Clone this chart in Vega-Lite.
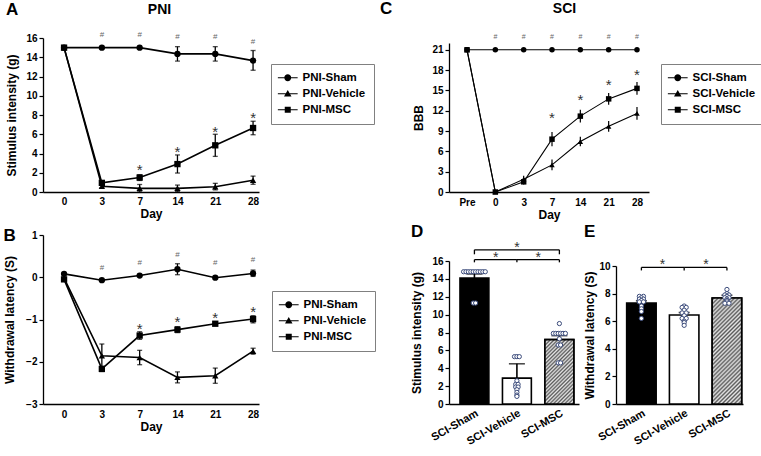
{
  "$schema": "https://vega.github.io/schema/vega-lite/v6.json",
  "padding": {"left": 3, "top": 0, "right": 0, "bottom": 0},
  "background": "white",
  "config": {
    "font": "Liberation Sans",
    "view": {"stroke": null},
    "axis": {"grid": false, "domainColor": "#000", "domainWidth": 1.3, "tickColor": "#000", "tickWidth": 1.2, "tickSize": 4, "labelFont": "Liberation Sans", "labelFontWeight": "bold", "labelFontSize": 10, "labelColor": "#000", "labelPadding": 2, "titleFont": "Liberation Sans", "titleFontWeight": "bold", "titleFontSize": 12, "titleColor": "#000", "labelOverlap": false},
    "title": {"font": "Liberation Sans", "fontWeight": "bold", "fontSize": 17, "color": "#000", "anchor": "start", "frame": "bounds", "baseline": "alphabetic"},
    "legend": {"orient": "none", "labelFont": "Liberation Sans", "labelFontWeight": "bold", "labelFontSize": 11.5, "labelColor": "#000", "strokeColor": "#808080", "padding": 8, "symbolOffset": 3, "labelOffset": 9, "rowPadding": 3, "symbolSize": 36, "symbolOpacity": 1, "symbolStrokeWidth": 1, "symbolFillColor": "#000", "symbolStrokeColor": "#000"}
  },
  "datasets": {
    "pniMech": [
      {"day": 0, "group": "PNI-Sham", "mean": 15},
      {"day": 3, "group": "PNI-Sham", "mean": 15},
      {"day": 7, "group": "PNI-Sham", "mean": 15},
      {"day": 14, "group": "PNI-Sham", "mean": 14.35, "lo": 13.6, "hi": 15.1},
      {"day": 21, "group": "PNI-Sham", "mean": 14.35, "lo": 13.6, "hi": 15.1},
      {"day": 28, "group": "PNI-Sham", "mean": 13.65, "lo": 12.65, "hi": 14.7},
      {"day": 0, "group": "PNI-Vehicle", "mean": 15},
      {"day": 3, "group": "PNI-Vehicle", "mean": 0.6, "lo": 0.45, "hi": 0.75},
      {"day": 7, "group": "PNI-Vehicle", "mean": 0.38, "lo": 0.02, "hi": 0.78},
      {"day": 14, "group": "PNI-Vehicle", "mean": 0.38, "lo": 0.05, "hi": 0.72},
      {"day": 21, "group": "PNI-Vehicle", "mean": 0.55, "lo": 0.22, "hi": 0.9},
      {"day": 28, "group": "PNI-Vehicle", "mean": 1.22, "lo": 0.8, "hi": 1.65},
      {"day": 0, "group": "PNI-MSC", "mean": 15},
      {"day": 3, "group": "PNI-MSC", "mean": 0.95, "lo": 0.75, "hi": 1.15},
      {"day": 7, "group": "PNI-MSC", "mean": 1.5, "lo": 1.2, "hi": 1.8},
      {"day": 14, "group": "PNI-MSC", "mean": 2.9, "lo": 1.97, "hi": 3.85},
      {"day": 21, "group": "PNI-MSC", "mean": 4.85, "lo": 3.7, "hi": 6.0},
      {"day": 28, "group": "PNI-MSC", "mean": 6.65, "lo": 5.95, "hi": 7.35}
    ],
    "pniMechAnn": [
      {"day": 7, "y": 2.7, "label": "*"},
      {"day": 14, "y": 4.6, "label": "*"},
      {"day": 21, "y": 6.7, "label": "*"},
      {"day": 28, "y": 8.1, "label": "*"},
      {"day": 3, "y": 16.3, "label": "#"},
      {"day": 7, "y": 16.3, "label": "#"},
      {"day": 14, "y": 16.15, "label": "#"},
      {"day": 21, "y": 16.15, "label": "#"},
      {"day": 28, "y": 15.6, "label": "#"}
    ],
    "pniTherm": [
      {"day": 0, "group": "PNI-Sham", "mean": 0.08},
      {"day": 3, "group": "PNI-Sham", "mean": -0.07},
      {"day": 7, "group": "PNI-Sham", "mean": 0.04},
      {"day": 14, "group": "PNI-Sham", "mean": 0.19, "lo": 0.06, "hi": 0.32},
      {"day": 21, "group": "PNI-Sham", "mean": -0.01},
      {"day": 28, "group": "PNI-Sham", "mean": 0.09, "lo": 0.02, "hi": 0.17},
      {"day": 0, "group": "PNI-Vehicle", "mean": -0.02},
      {"day": 3, "group": "PNI-Vehicle", "mean": -1.86, "lo": -2.14, "hi": -1.58},
      {"day": 7, "group": "PNI-Vehicle", "mean": -1.9, "lo": -2.07, "hi": -1.73},
      {"day": 14, "group": "PNI-Vehicle", "mean": -2.37, "lo": -2.5, "hi": -2.24},
      {"day": 21, "group": "PNI-Vehicle", "mean": -2.33, "lo": -2.51, "hi": -2.15},
      {"day": 28, "group": "PNI-Vehicle", "mean": -1.75, "lo": -1.82, "hi": -1.68},
      {"day": 0, "group": "PNI-MSC", "mean": -0.05},
      {"day": 3, "group": "PNI-MSC", "mean": -2.17, "lo": -2.23, "hi": -2.11},
      {"day": 7, "group": "PNI-MSC", "mean": -1.38, "lo": -1.47, "hi": -1.29},
      {"day": 14, "group": "PNI-MSC", "mean": -1.24, "lo": -1.31, "hi": -1.17},
      {"day": 21, "group": "PNI-MSC", "mean": -1.1, "lo": -1.14, "hi": -1.06},
      {"day": 28, "group": "PNI-MSC", "mean": -0.99, "lo": -1.08, "hi": -0.91}
    ],
    "pniThermAnn": [
      {"day": 7, "y": -1.13, "label": "*"},
      {"day": 14, "y": -0.96, "label": "*"},
      {"day": 21, "y": -0.87, "label": "*"},
      {"day": 28, "y": -0.73, "label": "*"},
      {"day": 3, "y": 0.23, "label": "#"},
      {"day": 7, "y": 0.33, "label": "#"},
      {"day": 14, "y": 0.53, "label": "#"},
      {"day": 21, "y": 0.33, "label": "#"},
      {"day": 28, "y": 0.41, "label": "#"}
    ],
    "sciBBB": [
      {"day": "Pre", "group": "SCI-Sham", "mean": 21},
      {"day": "0", "group": "SCI-Sham", "mean": 21},
      {"day": "3", "group": "SCI-Sham", "mean": 21},
      {"day": "7", "group": "SCI-Sham", "mean": 21},
      {"day": "14", "group": "SCI-Sham", "mean": 21},
      {"day": "21", "group": "SCI-Sham", "mean": 21},
      {"day": "28", "group": "SCI-Sham", "mean": 21},
      {"day": "Pre", "group": "SCI-Vehicle", "mean": 21},
      {"day": "0", "group": "SCI-Vehicle", "mean": 0},
      {"day": "3", "group": "SCI-Vehicle", "mean": 1.9, "lo": 1.4, "hi": 2.4},
      {"day": "7", "group": "SCI-Vehicle", "mean": 4.0, "lo": 3.2, "hi": 4.8},
      {"day": "14", "group": "SCI-Vehicle", "mean": 7.45, "lo": 6.75, "hi": 8.15},
      {"day": "21", "group": "SCI-Vehicle", "mean": 9.7, "lo": 8.9, "hi": 10.5},
      {"day": "28", "group": "SCI-Vehicle", "mean": 11.6, "lo": 10.65, "hi": 12.55},
      {"day": "Pre", "group": "SCI-MSC", "mean": 21},
      {"day": "0", "group": "SCI-MSC", "mean": 0},
      {"day": "3", "group": "SCI-MSC", "mean": 1.5, "lo": 1.1, "hi": 1.9},
      {"day": "7", "group": "SCI-MSC", "mean": 7.8, "lo": 6.75, "hi": 8.85},
      {"day": "14", "group": "SCI-MSC", "mean": 11.2, "lo": 10.25, "hi": 12.15},
      {"day": "21", "group": "SCI-MSC", "mean": 13.75, "lo": 12.9, "hi": 14.6},
      {"day": "28", "group": "SCI-MSC", "mean": 15.3, "lo": 14.35, "hi": 16.25}
    ],
    "sciBBBAnn": [
      {"day": "7", "y": 11.5, "label": "*"},
      {"day": "14", "y": 14.2, "label": "*"},
      {"day": "21", "y": 16.4, "label": "*"},
      {"day": "28", "y": 17.9, "label": "*"},
      {"day": "0", "y": 22.85, "label": "#"},
      {"day": "3", "y": 22.85, "label": "#"},
      {"day": "7", "y": 22.85, "label": "#"},
      {"day": "14", "y": 22.85, "label": "#"},
      {"day": "21", "y": 22.85, "label": "#"},
      {"day": "28", "y": 22.85, "label": "#"}
    ],
    "dBars": [
      {"group": "SCI-Sham", "mean": 14.1, "hi": 14.55},
      {"group": "SCI-Vehicle", "mean": 2.9, "hi": 4.5},
      {"group": "SCI-MSC", "mean": 7.2, "hi": 7.65}
    ],
    "dDots": [
      {"group": "SCI-Sham", "value": 14.8}, {"group": "SCI-Sham", "value": 14.8}, {"group": "SCI-Sham", "value": 14.8}, {"group": "SCI-Sham", "value": 14.8}, {"group": "SCI-Sham", "value": 14.8},
      {"group": "SCI-Sham", "value": 14.8}, {"group": "SCI-Sham", "value": 14.8}, {"group": "SCI-Sham", "value": 14.8}, {"group": "SCI-Sham", "value": 14.8}, {"group": "SCI-Sham", "value": 14.8},
      {"group": "SCI-Sham", "value": 11.3}, {"group": "SCI-Sham", "value": 11.3},
      {"group": "SCI-Vehicle", "value": 5.3}, {"group": "SCI-Vehicle", "value": 5.3}, {"group": "SCI-Vehicle", "value": 5.3},
      {"group": "SCI-Vehicle", "value": 2.6}, {"group": "SCI-Vehicle", "value": 2.2}, {"group": "SCI-Vehicle", "value": 2.2},
      {"group": "SCI-Vehicle", "value": 1.9}, {"group": "SCI-Vehicle", "value": 1.9}, {"group": "SCI-Vehicle", "value": 1.6},
      {"group": "SCI-Vehicle", "value": 1.3}, {"group": "SCI-Vehicle", "value": 1.0}, {"group": "SCI-Vehicle", "value": 0.85},
      {"group": "SCI-MSC", "value": 9.0},
      {"group": "SCI-MSC", "value": 7.9}, {"group": "SCI-MSC", "value": 7.9}, {"group": "SCI-MSC", "value": 7.9}, {"group": "SCI-MSC", "value": 7.9}, {"group": "SCI-MSC", "value": 7.9}, {"group": "SCI-MSC", "value": 7.9},
      {"group": "SCI-MSC", "value": 7.3},
      {"group": "SCI-MSC", "value": 6.6}, {"group": "SCI-MSC", "value": 6.6},
      {"group": "SCI-MSC", "value": 4.6}, {"group": "SCI-MSC", "value": 4.6}
    ],
    "dBrackets": [
      {"from": "SCI-Sham", "to": "SCI-MSC", "y": 17.25},
      {"from": "SCI-Sham", "to": "SCI-Vehicle", "y": 16.15},
      {"from": "SCI-Vehicle", "to": "SCI-MSC", "y": 16.15}
    ],
    "dBracketTicks": [
      {"g": "SCI-Sham", "y": 17.25, "y2": 16.75},
      {"g": "SCI-MSC", "y": 17.25, "y2": 16.75},
      {"g": "SCI-Sham", "y": 16.15, "y2": 15.85},
      {"g": "SCI-Vehicle", "y": 16.15, "y2": 15.85},
      {"g": "SCI-MSC", "y": 16.15, "y2": 15.85}
    ],
    "dStars": [
      {"g": "SCI-Vehicle", "side": 0, "y": 17.9, "label": "*"},
      {"g": "SCI-Vehicle", "side": -1, "y": 16.8, "label": "*"},
      {"g": "SCI-Vehicle", "side": 1, "y": 16.8, "label": "*"}
    ],
    "eBars": [
      {"group": "SCI-Sham", "mean": 7.32, "hi": 7.48},
      {"group": "SCI-Vehicle", "mean": 6.45, "hi": 6.63},
      {"group": "SCI-MSC", "mean": 7.68, "hi": 7.88}
    ],
    "eDots": [
      {"group": "SCI-Sham", "value": 7.8}, {"group": "SCI-Sham", "value": 7.8}, {"group": "SCI-Sham", "value": 7.7}, {"group": "SCI-Sham", "value": 7.6},
      {"group": "SCI-Sham", "value": 7.6}, {"group": "SCI-Sham", "value": 7.5}, {"group": "SCI-Sham", "value": 7.4}, {"group": "SCI-Sham", "value": 7.4},
      {"group": "SCI-Sham", "value": 7.1}, {"group": "SCI-Sham", "value": 6.9}, {"group": "SCI-Sham", "value": 6.7}, {"group": "SCI-Sham", "value": 6.2},
      {"group": "SCI-Vehicle", "value": 7.1}, {"group": "SCI-Vehicle", "value": 7.0}, {"group": "SCI-Vehicle", "value": 7.0}, {"group": "SCI-Vehicle", "value": 6.8},
      {"group": "SCI-Vehicle", "value": 6.6}, {"group": "SCI-Vehicle", "value": 6.6}, {"group": "SCI-Vehicle", "value": 6.4}, {"group": "SCI-Vehicle", "value": 6.2},
      {"group": "SCI-Vehicle", "value": 6.2}, {"group": "SCI-Vehicle", "value": 6.0}, {"group": "SCI-Vehicle", "value": 5.9}, {"group": "SCI-Vehicle", "value": 5.7},
      {"group": "SCI-MSC", "value": 8.3}, {"group": "SCI-MSC", "value": 8.0}, {"group": "SCI-MSC", "value": 7.9}, {"group": "SCI-MSC", "value": 7.9},
      {"group": "SCI-MSC", "value": 7.8}, {"group": "SCI-MSC", "value": 7.7}, {"group": "SCI-MSC", "value": 7.7}, {"group": "SCI-MSC", "value": 7.6},
      {"group": "SCI-MSC", "value": 7.5}, {"group": "SCI-MSC", "value": 7.4}, {"group": "SCI-MSC", "value": 7.3}, {"group": "SCI-MSC", "value": 7.3}
    ],
    "eBrackets": [
      {"from": "SCI-Sham", "to": "SCI-Vehicle", "y": 9.9},
      {"from": "SCI-Vehicle", "to": "SCI-MSC", "y": 9.9}
    ],
    "eBracketTicks": [
      {"g": "SCI-Sham", "y": 9.9, "y2": 9.68},
      {"g": "SCI-Vehicle", "y": 9.9, "y2": 9.68},
      {"g": "SCI-MSC", "y": 9.9, "y2": 9.68}
    ],
    "eStars": [
      {"g": "SCI-Vehicle", "side": -1, "y": 10.34, "label": "*"},
      {"g": "SCI-Vehicle", "side": 1, "y": 10.34, "label": "*"}
    ]
  },
  "resolve": {"scale": {"x": "independent", "y": "independent", "shape": "independent", "fill": "independent", "xOffset": "independent"}},
  "columns": 3,
  "align": "none",
  "bounds": "flush",
  "spacing": {"row": 43, "column": 37},
  "concat": [
    {
      "width": 369, "height": 154,
      "title": {"text": "A", "offset": -17},
      "data": {"name": "pniMech"},
      "resolve": {"axis": {"x": "independent"}},
      "layer": [
        {
          "mark": {"type": "line", "color": "#000", "strokeWidth": 1.6},
          "encoding": {
            "x": {"field": "day", "type": "ordinal", "scale": {"type": "point", "range": [0, 216], "padding": 0.357, "align": 0.78}, "axis": {"title": "Day", "labelAngle": 0, "ticks": false, "labelPadding": 4, "titlePadding": 2}},
            "y": {"field": "mean", "type": "quantitative", "scale": {"domain": [0, 16]}, "axis": {"title": "Stimulus intensity (g)", "values": [0, 2, 4, 6, 8, 10, 12, 14, 16], "tickCount": 50, "format": "d", "titlePadding": 7}},
            "detail": {"field": "group"}
          }
        },
        {
          "transform": [{"filter": "isValid(datum.lo)"}],
          "mark": {"type": "rule", "color": "#000", "strokeWidth": 1.3},
          "encoding": {"x": {"field": "day", "type": "ordinal", "axis": null}, "y": {"field": "lo", "type": "quantitative"}, "y2": {"field": "hi"}}
        },
        {
          "transform": [{"filter": "isValid(datum.lo)"}],
          "mark": {"type": "tick", "color": "#000", "thickness": 1.3, "size": 5, "orient": "horizontal"},
          "encoding": {"x": {"field": "day", "type": "ordinal", "axis": null}, "y": {"field": "lo", "type": "quantitative"}}
        },
        {
          "transform": [{"filter": "isValid(datum.lo)"}],
          "mark": {"type": "tick", "color": "#000", "thickness": 1.3, "size": 5, "orient": "horizontal"},
          "encoding": {"x": {"field": "day", "type": "ordinal", "axis": null}, "y": {"field": "hi", "type": "quantitative"}}
        },
        {
          "transform": [{"filter": "datum.group == 'PNI-Sham'"}],
          "mark": {"type": "point", "shape": "circle", "filled": true, "color": "#000", "size": 40, "opacity": 1},
          "encoding": {"x": {"field": "day", "type": "ordinal", "axis": null}, "y": {"field": "mean", "type": "quantitative"}}
        },
        {
          "transform": [{"filter": "datum.group == 'PNI-Vehicle'"}],
          "mark": {"type": "point", "shape": "triangle-up", "filled": true, "color": "#000", "size": 40, "opacity": 1},
          "encoding": {"x": {"field": "day", "type": "ordinal", "axis": null}, "y": {"field": "mean", "type": "quantitative"}}
        },
        {
          "transform": [{"filter": "datum.group == 'PNI-MSC'"}],
          "mark": {"type": "point", "shape": "square", "filled": true, "color": "#000", "size": 40, "opacity": 1},
          "encoding": {"x": {"field": "day", "type": "ordinal", "axis": null}, "y": {"field": "mean", "type": "quantitative"}}
        },
        {
          "mark": {"type": "point", "fill": "#000", "stroke": "#000", "strokeWidth": 1, "opacity": 0, "size": 36},
          "encoding": {
            "x": {"field": "day", "type": "ordinal", "axis": null},
            "y": {"field": "mean", "type": "quantitative"},
            "shape": {"field": "group", "type": "nominal", "scale": {"domain": ["PNI-Sham", "PNI-Vehicle", "PNI-MSC"], "range": ["M-3.3,-0.17H3.3V0.17H-3.3ZM1.15,0A1.15,1.15,0,1,1,-1.15,0A1.15,1.15,0,1,1,1.15,0Z", "M-3.3,-0.17H3.3V0.17H-3.3ZM0,-1.25L1.25,0.95L-1.25,0.95Z", "M-3.3,-0.17H3.3V0.17H-3.3ZM-1,-1H1V1H-1Z"]},
              "legend": {"title": null, "legendX": 228, "legendY": 26}}
          }
        },
        {
          "data": {"name": "pniMechAnn"},
          "transform": [{"filter": "datum.label == '*'"}],
          "mark": {"type": "text", "fontSize": 15, "color": "#333", "baseline": "middle", "dy": 4},
          "encoding": {"x": {"field": "day", "type": "ordinal", "axis": null}, "y": {"field": "y", "type": "quantitative"}, "text": {"field": "label"}}
        },
        {
          "data": {"name": "pniMechAnn"},
          "transform": [{"filter": "datum.label == '#'"}],
          "mark": {"type": "text", "fontSize": 8, "color": "#666", "baseline": "middle"},
          "encoding": {
            "x": {"field": "day", "type": "ordinal", "axis": {"orient": "top", "title": "PNI", "domain": false, "ticks": false, "labels": false, "titleFontSize": 14, "titleX": 116, "titleY": -25, "titleBaseline": "alphabetic", "titleAlign": "center"}},
            "y": {"field": "y", "type": "quantitative"}, "text": {"field": "label"}
          }
        }
      ]
    },
    {
      "width": 130, "height": 154,
      "title": {"text": "C", "offset": -17, "dx": -33},
      "data": {"name": "sciBBB"},
      "resolve": {"axis": {"x": "independent"}},
      "layer": [
        {
          "mark": {"type": "line", "color": "#000", "strokeWidth": 1.1},
          "encoding": {
            "x": {"field": "day", "type": "ordinal", "scale": {"type": "point", "domain": ["Pre", "0", "3", "7", "14", "21", "28"], "range": [0, 200], "padding": 0.53, "align": 0.6}, "axis": {"title": "Day", "labelAngle": 0, "ticks": false, "labelPadding": 5, "titlePadding": 2}},
            "y": {"field": "mean", "type": "quantitative", "scale": {"domain": [0, 21], "range": [154, 5]}, "axis": {"title": "BBB", "values": [0, 3, 6, 9, 12, 15, 18, 21], "tickCount": 50, "format": "d", "titlePadding": 6}},
            "detail": {"field": "group"}
          }
        },
        {
          "transform": [{"filter": "isValid(datum.lo)"}],
          "mark": {"type": "rule", "color": "#000", "strokeWidth": 1.2},
          "encoding": {"x": {"field": "day", "type": "ordinal", "axis": null}, "y": {"field": "lo", "type": "quantitative"}, "y2": {"field": "hi"}}
        },
        {
          "transform": [{"filter": "datum.group == 'SCI-Sham'"}],
          "mark": {"type": "point", "shape": "circle", "filled": true, "color": "#000", "size": 30, "opacity": 1},
          "encoding": {"x": {"field": "day", "type": "ordinal", "axis": null}, "y": {"field": "mean", "type": "quantitative"}}
        },
        {
          "transform": [{"filter": "datum.group == 'SCI-Vehicle'"}],
          "mark": {"type": "point", "shape": "triangle-up", "filled": true, "color": "#000", "size": 30, "opacity": 1},
          "encoding": {"x": {"field": "day", "type": "ordinal", "axis": null}, "y": {"field": "mean", "type": "quantitative"}}
        },
        {
          "transform": [{"filter": "datum.group == 'SCI-MSC'"}],
          "mark": {"type": "point", "shape": "square", "filled": true, "color": "#000", "size": 30, "opacity": 1},
          "encoding": {"x": {"field": "day", "type": "ordinal", "axis": null}, "y": {"field": "mean", "type": "quantitative"}}
        },
        {
          "mark": {"type": "point", "fill": "#000", "stroke": "#000", "strokeWidth": 1, "opacity": 0, "size": 36},
          "encoding": {
            "x": {"field": "day", "type": "ordinal", "axis": null},
            "y": {"field": "mean", "type": "quantitative"},
            "shape": {"field": "group", "type": "nominal", "scale": {"domain": ["SCI-Sham", "SCI-Vehicle", "SCI-MSC"], "range": ["M-3.3,-0.17H3.3V0.17H-3.3ZM1.15,0A1.15,1.15,0,1,1,-1.15,0A1.15,1.15,0,1,1,1.15,0Z", "M-3.3,-0.17H3.3V0.17H-3.3ZM0,-1.25L1.25,0.95L-1.25,0.95Z", "M-3.3,-0.17H3.3V0.17H-3.3ZM-1,-1H1V1H-1Z"]},
              "legend": {"title": null, "legendX": 212, "legendY": 26}}
          }
        },
        {
          "data": {"name": "sciBBBAnn"},
          "transform": [{"filter": "datum.label == '*'"}],
          "mark": {"type": "text", "fontSize": 15, "color": "#333", "baseline": "middle", "dy": 4},
          "encoding": {"x": {"field": "day", "type": "ordinal", "axis": null}, "y": {"field": "y", "type": "quantitative"}, "text": {"field": "label"}}
        },
        {
          "data": {"name": "sciBBBAnn"},
          "transform": [{"filter": "datum.label == '#'"}],
          "mark": {"type": "text", "fontSize": 7, "color": "#666", "baseline": "middle"},
          "encoding": {
            "x": {"field": "day", "type": "ordinal", "axis": {"orient": "top", "title": "SCI", "domain": false, "ticks": false, "labels": false, "titleFontSize": 14, "titleX": 115, "titleY": -26, "titleBaseline": "alphabetic", "titleAlign": "center"}},
            "y": {"field": "y", "type": "quantitative"}, "text": {"field": "label"}
          }
        }
      ]
    },
    {
      "width": 1, "height": 154,
      "data": {"values": []},
      "mark": {"type": "point", "opacity": 0},
      "encoding": {}
    },
    {
      "width": 369, "height": 169,
      "title": {"text": "B", "offset": -15},
      "data": {"name": "pniTherm"},
      "resolve": {"axis": {"x": "independent"}},
      "layer": [
        {
          "mark": {"type": "line", "color": "#000", "strokeWidth": 1.6},
          "encoding": {
            "x": {"field": "day", "type": "ordinal", "scale": {"type": "point", "range": [0, 216], "padding": 0.357, "align": 0.78}, "axis": {"title": "Day", "labelAngle": 0, "ticks": false, "labelPadding": 5, "titlePadding": 2}},
            "y": {"field": "mean", "type": "quantitative", "scale": {"domain": [-3, 1]}, "axis": {"title": "Withdrawal latency (S)", "values": [-3, -2, -1, 0, 1], "titlePadding": 9}},
            "detail": {"field": "group"}
          }
        },
        {
          "transform": [{"filter": "isValid(datum.lo)"}],
          "mark": {"type": "rule", "color": "#000", "strokeWidth": 1.3},
          "encoding": {"x": {"field": "day", "type": "ordinal", "axis": null}, "y": {"field": "lo", "type": "quantitative"}, "y2": {"field": "hi"}}
        },
        {
          "transform": [{"filter": "isValid(datum.lo)"}],
          "mark": {"type": "tick", "color": "#000", "thickness": 1.3, "size": 5, "orient": "horizontal"},
          "encoding": {"x": {"field": "day", "type": "ordinal", "axis": null}, "y": {"field": "lo", "type": "quantitative"}}
        },
        {
          "transform": [{"filter": "isValid(datum.lo)"}],
          "mark": {"type": "tick", "color": "#000", "thickness": 1.3, "size": 5, "orient": "horizontal"},
          "encoding": {"x": {"field": "day", "type": "ordinal", "axis": null}, "y": {"field": "hi", "type": "quantitative"}}
        },
        {
          "transform": [{"filter": "datum.group == 'PNI-Sham'"}],
          "mark": {"type": "point", "shape": "circle", "filled": true, "color": "#000", "size": 40, "opacity": 1},
          "encoding": {"x": {"field": "day", "type": "ordinal", "axis": null}, "y": {"field": "mean", "type": "quantitative"}}
        },
        {
          "transform": [{"filter": "datum.group == 'PNI-Vehicle'"}],
          "mark": {"type": "point", "shape": "triangle-up", "filled": true, "color": "#000", "size": 40, "opacity": 1},
          "encoding": {"x": {"field": "day", "type": "ordinal", "axis": null}, "y": {"field": "mean", "type": "quantitative"}}
        },
        {
          "transform": [{"filter": "datum.group == 'PNI-MSC'"}],
          "mark": {"type": "point", "shape": "square", "filled": true, "color": "#000", "size": 40, "opacity": 1},
          "encoding": {"x": {"field": "day", "type": "ordinal", "axis": null}, "y": {"field": "mean", "type": "quantitative"}}
        },
        {
          "mark": {"type": "point", "fill": "#000", "stroke": "#000", "strokeWidth": 1, "opacity": 0, "size": 36},
          "encoding": {
            "x": {"field": "day", "type": "ordinal", "axis": null},
            "y": {"field": "mean", "type": "quantitative"},
            "shape": {"field": "group", "type": "nominal", "scale": {"domain": ["PNI-Sham", "PNI-Vehicle", "PNI-MSC"], "range": ["M-3.3,-0.17H3.3V0.17H-3.3ZM1.15,0A1.15,1.15,0,1,1,-1.15,0A1.15,1.15,0,1,1,1.15,0Z", "M-3.3,-0.17H3.3V0.17H-3.3ZM0,-1.25L1.25,0.95L-1.25,0.95Z", "M-3.3,-0.17H3.3V0.17H-3.3ZM-1,-1H1V1H-1Z"]},
              "legend": {"title": null, "legendX": 229, "legendY": 56}}
          }
        },
        {
          "data": {"name": "pniThermAnn"},
          "transform": [{"filter": "datum.label == '*'"}],
          "mark": {"type": "text", "fontSize": 15, "color": "#333", "baseline": "middle", "dy": 4},
          "encoding": {"x": {"field": "day", "type": "ordinal", "axis": null}, "y": {"field": "y", "type": "quantitative"}, "text": {"field": "label"}}
        },
        {
          "data": {"name": "pniThermAnn"},
          "transform": [{"filter": "datum.label == '#'"}],
          "mark": {"type": "text", "fontSize": 8, "color": "#666", "baseline": "middle"},
          "encoding": {"x": {"field": "day", "type": "ordinal", "axis": null}, "y": {"field": "y", "type": "quantitative"}, "text": {"field": "label"}}
        }
      ]
    },
    {
      "width": 130, "height": 169,
      "title": {"text": "D", "offset": -6},
      "resolve": {"scale": {"xOffset": "independent"}},
      "layer": [
        {
          "data": {"name": "dBars"},
          "mark": {"type": "bar", "stroke": "#000", "strokeWidth": 1.6},
          "encoding": {
            "x": {"field": "group", "type": "nominal", "title": null, "scale": {"domain": ["SCI-Sham", "SCI-Vehicle", "SCI-MSC"], "paddingInner": 0.32, "paddingOuter": 0.19, "align": 0.68}, "axis": {"labelAngle": -30, "ticks": false, "labelAlign": "right", "labelBaseline": "top", "labelFontSize": 11, "labelPadding": 3}},
            "y": {"field": "mean", "type": "quantitative", "title": "Stimulus intensity (g)", "scale": {"domain": [0, 16], "range": [169, 26]}, "axis": {"values": [0, 2, 4, 6, 8, 10, 12, 14, 16], "tickCount": 50, "format": "d", "titlePadding": 8}},
            "fill": {"field": "group", "type": "nominal", "scale": {"domain": ["SCI-Sham", "SCI-Vehicle", "SCI-MSC"], "range": ["#000000", "#ffffff", "#a9a9a9"]}, "legend": null}
          }
        },
        {
          "data": {"name": "dBars"},
          "transform": [{"filter": "datum.group == 'SCI-MSC'"}],
          "mark": {"type": "bar", "stroke": "#000", "strokeWidth": 1.6,
            "fill": {"gradient": "linear", "x1": 0, "y1": 0, "x2": 0.541, "y2": 1.206, "stops": [
              {"offset": 0, "color": "#e6e6e6"}, {"offset": 0.02, "color": "#5a5a5a"}, {"offset": 0.04, "color": "#e6e6e6"}, {"offset": 0.06, "color": "#5a5a5a"}, {"offset": 0.08, "color": "#e6e6e6"},
              {"offset": 0.1, "color": "#5a5a5a"}, {"offset": 0.12, "color": "#e6e6e6"}, {"offset": 0.14, "color": "#5a5a5a"}, {"offset": 0.16, "color": "#e6e6e6"}, {"offset": 0.18, "color": "#5a5a5a"},
              {"offset": 0.2, "color": "#e6e6e6"}, {"offset": 0.22, "color": "#5a5a5a"}, {"offset": 0.24, "color": "#e6e6e6"}, {"offset": 0.26, "color": "#5a5a5a"}, {"offset": 0.28, "color": "#e6e6e6"},
              {"offset": 0.3, "color": "#5a5a5a"}, {"offset": 0.32, "color": "#e6e6e6"}, {"offset": 0.34, "color": "#5a5a5a"}, {"offset": 0.36, "color": "#e6e6e6"}, {"offset": 0.38, "color": "#5a5a5a"},
              {"offset": 0.4, "color": "#e6e6e6"}, {"offset": 0.42, "color": "#5a5a5a"}, {"offset": 0.44, "color": "#e6e6e6"}, {"offset": 0.46, "color": "#5a5a5a"}, {"offset": 0.48, "color": "#e6e6e6"},
              {"offset": 0.5, "color": "#5a5a5a"}, {"offset": 0.52, "color": "#e6e6e6"}, {"offset": 0.54, "color": "#5a5a5a"}, {"offset": 0.56, "color": "#e6e6e6"}, {"offset": 0.58, "color": "#5a5a5a"},
              {"offset": 0.6, "color": "#e6e6e6"}, {"offset": 0.62, "color": "#5a5a5a"}, {"offset": 0.64, "color": "#e6e6e6"}, {"offset": 0.66, "color": "#5a5a5a"}, {"offset": 0.68, "color": "#e6e6e6"},
              {"offset": 0.7, "color": "#5a5a5a"}, {"offset": 0.72, "color": "#e6e6e6"}, {"offset": 0.74, "color": "#5a5a5a"}, {"offset": 0.76, "color": "#e6e6e6"}, {"offset": 0.78, "color": "#5a5a5a"},
              {"offset": 0.8, "color": "#e6e6e6"}, {"offset": 0.82, "color": "#5a5a5a"}, {"offset": 0.84, "color": "#e6e6e6"}, {"offset": 0.86, "color": "#5a5a5a"}, {"offset": 0.88, "color": "#e6e6e6"},
              {"offset": 0.9, "color": "#5a5a5a"}, {"offset": 0.92, "color": "#e6e6e6"}, {"offset": 0.94, "color": "#5a5a5a"}, {"offset": 0.96, "color": "#e6e6e6"}, {"offset": 0.98, "color": "#5a5a5a"},
              {"offset": 1, "color": "#e6e6e6"}
            ]}},
          "encoding": {"x": {"field": "group", "type": "nominal", "title": null}, "y": {"field": "mean", "type": "quantitative", "title": "Stimulus intensity (g)"}}
        },
        {
          "data": {"name": "dBars"},
          "mark": {"type": "rule", "color": "#000", "strokeWidth": 1.6},
          "encoding": {"x": {"field": "group", "type": "nominal", "title": null}, "y": {"field": "mean", "type": "quantitative", "title": "Stimulus intensity (g)"}, "y2": {"field": "hi"}}
        },
        {
          "data": {"name": "dBars"},
          "mark": {"type": "tick", "color": "#000", "orient": "horizontal", "size": 16, "thickness": 1.6},
          "encoding": {"x": {"field": "group", "type": "nominal", "title": null}, "y": {"field": "hi", "type": "quantitative", "title": "Stimulus intensity (g)"}}
        },
        {
          "data": {"name": "dDots"},
          "transform": [
            {"window": [{"op": "row_number", "as": "k"}, {"op": "count", "as": "n"}], "groupby": ["group", "value"], "frame": [null, null]},
            {"calculate": "datum.k - (datum.n + 1) / 2", "as": "off"}
          ],
          "mark": {"type": "point", "shape": "circle", "size": 18, "filled": true, "fill": "#ffffff", "stroke": "#3b4b7b", "strokeWidth": 1, "opacity": 1},
          "encoding": {
            "x": {"field": "group", "type": "nominal", "title": null},
            "xOffset": {"field": "off", "type": "quantitative", "scale": {"domain": [-6, 6]}},
            "y": {"field": "value", "type": "quantitative", "title": "Stimulus intensity (g)"}
          }
        },
        {
          "data": {"name": "dBrackets"},
          "mark": {"type": "rule", "color": "#000", "strokeWidth": 1.3},
          "encoding": {"x": {"field": "from", "type": "nominal", "title": null}, "x2": {"field": "to"}, "y": {"field": "y", "type": "quantitative", "title": "Stimulus intensity (g)"}}
        },
        {
          "data": {"name": "dBracketTicks"},
          "mark": {"type": "rule", "color": "#000", "strokeWidth": 1.3},
          "encoding": {"x": {"field": "g", "type": "nominal", "title": null}, "y": {"field": "y", "type": "quantitative", "title": "Stimulus intensity (g)"}, "y2": {"field": "y2"}}
        },
        {
          "data": {"name": "dStars"},
          "mark": {"type": "text", "fontSize": 14, "color": "#333", "baseline": "middle", "dy": 4},
          "encoding": {
            "x": {"field": "g", "type": "nominal", "title": null},
            "xOffset": {"field": "side", "type": "quantitative", "scale": {"domain": [-0.68, 0.68]}},
            "y": {"field": "y", "type": "quantitative", "title": "Stimulus intensity (g)"},
            "text": {"field": "label"}
          }
        }
      ]
    },
    {
      "width": 127, "height": 169,
      "title": {"text": "E", "offset": -6},
      "resolve": {"scale": {"xOffset": "independent"}},
      "layer": [
        {
          "data": {"name": "eBars"},
          "mark": {"type": "bar", "stroke": "#000", "strokeWidth": 1.6},
          "encoding": {
            "x": {"field": "group", "type": "nominal", "title": null, "scale": {"domain": ["SCI-Sham", "SCI-Vehicle", "SCI-MSC"], "paddingInner": 0.31, "paddingOuter": 0.14, "align": 0.89}, "axis": {"labelAngle": -30, "ticks": false, "labelAlign": "right", "labelBaseline": "top", "labelFontSize": 11, "labelPadding": 3}},
            "y": {"field": "mean", "type": "quantitative", "title": "Withdrawal latency (S)", "scale": {"domain": [0, 10], "range": [169, 31]}, "axis": {"values": [0, 2, 4, 6, 8, 10], "tickCount": 50, "format": "d", "titlePadding": 2}},
            "fill": {"field": "group", "type": "nominal", "scale": {"domain": ["SCI-Sham", "SCI-Vehicle", "SCI-MSC"], "range": ["#000000", "#ffffff", "#a9a9a9"]}, "legend": null}
          }
        },
        {
          "data": {"name": "eBars"},
          "transform": [{"filter": "datum.group == 'SCI-MSC'"}],
          "mark": {"type": "bar", "stroke": "#000", "strokeWidth": 1.6,
            "fill": {"gradient": "linear", "x1": 0, "y1": 0, "x2": 0.33, "y2": 1.186, "stops": [
              {"offset": 0, "color": "#e6e6e6"}, {"offset": 0.015, "color": "#5a5a5a"}, {"offset": 0.03, "color": "#e6e6e6"}, {"offset": 0.045, "color": "#5a5a5a"}, {"offset": 0.06, "color": "#e6e6e6"},
              {"offset": 0.075, "color": "#5a5a5a"}, {"offset": 0.09, "color": "#e6e6e6"}, {"offset": 0.105, "color": "#5a5a5a"}, {"offset": 0.12, "color": "#e6e6e6"}, {"offset": 0.135, "color": "#5a5a5a"},
              {"offset": 0.15, "color": "#e6e6e6"}, {"offset": 0.165, "color": "#5a5a5a"}, {"offset": 0.18, "color": "#e6e6e6"}, {"offset": 0.195, "color": "#5a5a5a"}, {"offset": 0.21, "color": "#e6e6e6"},
              {"offset": 0.225, "color": "#5a5a5a"}, {"offset": 0.24, "color": "#e6e6e6"}, {"offset": 0.255, "color": "#5a5a5a"}, {"offset": 0.27, "color": "#e6e6e6"}, {"offset": 0.285, "color": "#5a5a5a"},
              {"offset": 0.3, "color": "#e6e6e6"}, {"offset": 0.315, "color": "#5a5a5a"}, {"offset": 0.33, "color": "#e6e6e6"}, {"offset": 0.345, "color": "#5a5a5a"}, {"offset": 0.36, "color": "#e6e6e6"},
              {"offset": 0.375, "color": "#5a5a5a"}, {"offset": 0.39, "color": "#e6e6e6"}, {"offset": 0.405, "color": "#5a5a5a"}, {"offset": 0.42, "color": "#e6e6e6"}, {"offset": 0.435, "color": "#5a5a5a"},
              {"offset": 0.45, "color": "#e6e6e6"}, {"offset": 0.465, "color": "#5a5a5a"}, {"offset": 0.48, "color": "#e6e6e6"}, {"offset": 0.495, "color": "#5a5a5a"}, {"offset": 0.51, "color": "#e6e6e6"},
              {"offset": 0.525, "color": "#5a5a5a"}, {"offset": 0.54, "color": "#e6e6e6"}, {"offset": 0.555, "color": "#5a5a5a"}, {"offset": 0.57, "color": "#e6e6e6"}, {"offset": 0.585, "color": "#5a5a5a"},
              {"offset": 0.6, "color": "#e6e6e6"}, {"offset": 0.615, "color": "#5a5a5a"}, {"offset": 0.63, "color": "#e6e6e6"}, {"offset": 0.645, "color": "#5a5a5a"}, {"offset": 0.66, "color": "#e6e6e6"},
              {"offset": 0.675, "color": "#5a5a5a"}, {"offset": 0.69, "color": "#e6e6e6"}, {"offset": 0.705, "color": "#5a5a5a"}, {"offset": 0.72, "color": "#e6e6e6"}, {"offset": 0.735, "color": "#5a5a5a"},
              {"offset": 0.75, "color": "#e6e6e6"}, {"offset": 0.765, "color": "#5a5a5a"}, {"offset": 0.78, "color": "#e6e6e6"}, {"offset": 0.795, "color": "#5a5a5a"}, {"offset": 0.81, "color": "#e6e6e6"},
              {"offset": 0.825, "color": "#5a5a5a"}, {"offset": 0.84, "color": "#e6e6e6"}, {"offset": 0.855, "color": "#5a5a5a"}, {"offset": 0.87, "color": "#e6e6e6"}, {"offset": 0.885, "color": "#5a5a5a"},
              {"offset": 0.9, "color": "#e6e6e6"}, {"offset": 0.915, "color": "#5a5a5a"}, {"offset": 0.93, "color": "#e6e6e6"}, {"offset": 0.945, "color": "#5a5a5a"}, {"offset": 0.96, "color": "#e6e6e6"},
              {"offset": 0.975, "color": "#5a5a5a"}, {"offset": 0.99, "color": "#e6e6e6"}, {"offset": 1, "color": "#a0a0a0"}
            ]}},
          "encoding": {"x": {"field": "group", "type": "nominal", "title": null}, "y": {"field": "mean", "type": "quantitative", "title": "Withdrawal latency (S)"}}
        },
        {
          "data": {"name": "eBars"},
          "mark": {"type": "rule", "color": "#000", "strokeWidth": 1.6},
          "encoding": {"x": {"field": "group", "type": "nominal", "title": null}, "y": {"field": "mean", "type": "quantitative", "title": "Withdrawal latency (S)"}, "y2": {"field": "hi"}}
        },
        {
          "data": {"name": "eBars"},
          "mark": {"type": "tick", "color": "#000", "orient": "horizontal", "size": 11, "thickness": 1.6},
          "encoding": {"x": {"field": "group", "type": "nominal", "title": null}, "y": {"field": "hi", "type": "quantitative", "title": "Withdrawal latency (S)"}}
        },
        {
          "data": {"name": "eDots"},
          "transform": [
            {"window": [{"op": "row_number", "as": "k"}, {"op": "count", "as": "n"}], "groupby": ["group", "value"], "frame": [null, null]},
            {"calculate": "datum.k - (datum.n + 1) / 2", "as": "off"}
          ],
          "mark": {"type": "point", "shape": "circle", "size": 18, "filled": true, "fill": "#ffffff", "stroke": "#3b4b7b", "strokeWidth": 1, "opacity": 1},
          "encoding": {
            "x": {"field": "group", "type": "nominal", "title": null},
            "xOffset": {"field": "off", "type": "quantitative", "scale": {"domain": [-3.6, 3.6]}},
            "y": {"field": "value", "type": "quantitative", "title": "Withdrawal latency (S)"}
          }
        },
        {
          "data": {"name": "eBrackets"},
          "mark": {"type": "rule", "color": "#000", "strokeWidth": 1.3},
          "encoding": {"x": {"field": "from", "type": "nominal", "title": null}, "x2": {"field": "to"}, "y": {"field": "y", "type": "quantitative", "title": "Withdrawal latency (S)"}}
        },
        {
          "data": {"name": "eBracketTicks"},
          "mark": {"type": "rule", "color": "#000", "strokeWidth": 1.3},
          "encoding": {"x": {"field": "g", "type": "nominal", "title": null}, "y": {"field": "y", "type": "quantitative", "title": "Withdrawal latency (S)"}, "y2": {"field": "y2"}}
        },
        {
          "data": {"name": "eStars"},
          "mark": {"type": "text", "fontSize": 14, "color": "#333", "baseline": "middle", "dy": 4},
          "encoding": {
            "x": {"field": "g", "type": "nominal", "title": null},
            "xOffset": {"field": "side", "type": "quantitative", "scale": {"domain": [-0.68, 0.68]}},
            "y": {"field": "y", "type": "quantitative", "title": "Withdrawal latency (S)"},
            "text": {"field": "label"}
          }
        }
      ]
    }
  ]
}
